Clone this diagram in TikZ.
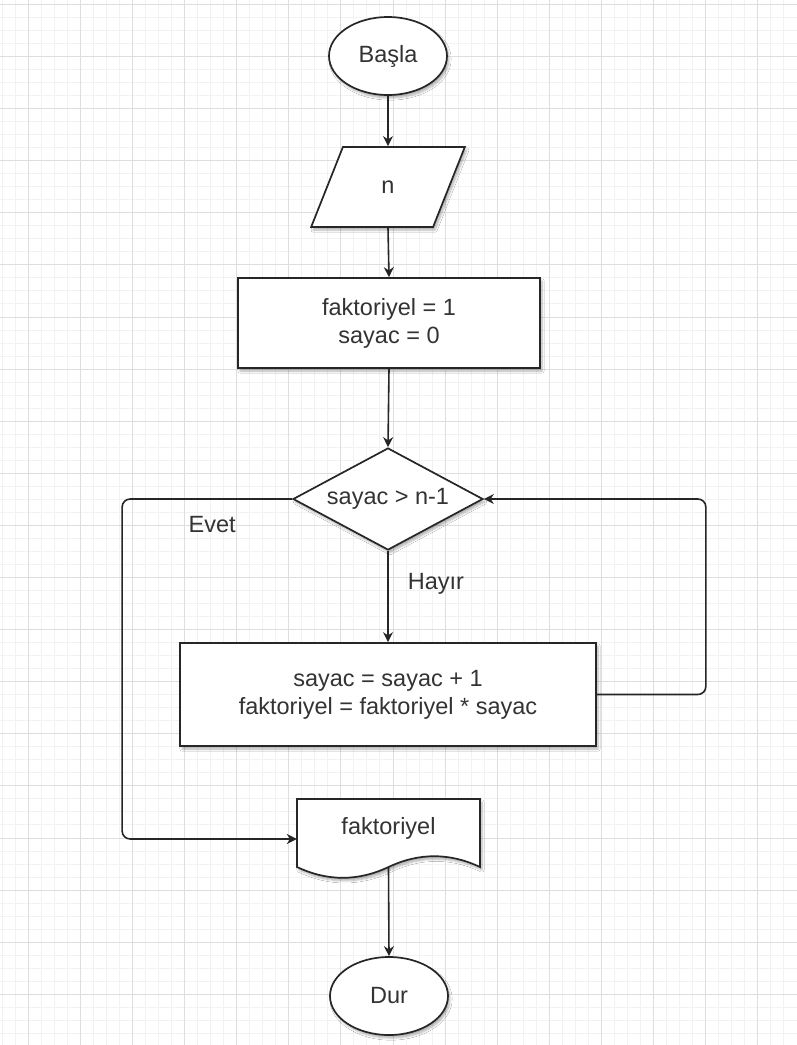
\documentclass[tikz,border=0pt]{standalone}
\usepackage{fontspec}
\setmainfont{Liberation Sans}
\usetikzlibrary{shapes.geometric,arrows.meta,shadows.blur}
\begin{document}
\begin{tikzpicture}[x=1pt,y=-1pt,
	font=\fontsize{23.5}{28}\selectfont,
	gridminor/.style={draw=black!5,line width=1pt},
	gridmajor/.style={draw=black!13,line width=1pt},
	block/.style={draw=black!85,fill=white,line width=1.7pt,text=black!80,align=center,inner sep=0pt,
		blur shadow={shadow xshift=2pt,shadow yshift=-3pt,shadow opacity=30,shadow blur steps=6}},
	startstop/.style={block,ellipse,minimum width=118pt,minimum height=78pt},
	io/.style={block,trapezium,trapezium left angle=70,trapezium right angle=110,
		trapezium stretches=true,minimum width=154pt,minimum height=80pt},
	process/.style={block,rectangle},
	decision/.style={block,diamond,aspect=1.86,minimum width=190pt,minimum height=102pt},
	arr/.style={draw=black!85,line width=1.6pt,-{Stealth[length=10pt,width=10pt]}},
	lbl/.style={text=black!80,inner sep=0pt}
	]
	\useasboundingbox (0,0) rectangle (797,1045);
	\fill[white] (0,0) rectangle (797,1045);
	
	% Grid
	\foreach \i in {0,1,...,60}{
		\draw[gridminor] (2.25+\i*13.025,0) -- ++(0,1045);
	}
	\foreach \i in {0,1,...,79}{
		\draw[gridminor] (0,4.4+\i*13.025) -- ++(797,0);
	}
	\foreach \i in {0,1,...,14}{
		\draw[gridmajor] (28.3+\i*52.1,0) -- ++(0,1045);
	}
	\foreach \i in {0,1,...,19}{
		\draw[gridmajor] (0,4.4+\i*52.1) -- ++(797,0);
	}
	
	% Shapes
	\node[startstop] (start) at (388,56) {Başla};
	\node[io] (inp) at (388,187) {n};
	\node[process,minimum width=302pt,minimum height=90pt] (init) at (389,323) {faktoriyel = 1\\sayac = 0};
	\node[decision] (cond) at (388,499) {sayac > n-1};
	\node[process,minimum width=416pt,minimum height=103pt] (body) at (388,694.5) {sayac = sayac + 1\\faktoriyel = faktoriyel * sayac};
	
	% Document
	\node[inner sep=0pt,minimum width=183pt,minimum height=80pt] (out) at (388.5,839) {};
	\draw[block,shift={(out.center)}] (-91.5,-40) -- (91.5,-40) -- (91.5,28)
		.. controls (61,13.6) and (30.5,13.6) .. (0,28)
		.. controls (-30.5,42.4) and (-61,42.4) .. (-91.5,28) -- cycle;
	\node[lbl] (outtext) at ([yshift=11pt]out.center) {faktoriyel};
	
	\node[startstop] (stop) at (389,996) {Dur};
	
	% Arrows
	\draw[arr] (start.south) -- (inp.north);
	\draw[arr] (inp.south) -- (init.north);
	\draw[arr] (init.south) -- (cond.north);
	\draw[arr] (cond.south) -- node[lbl,pos=0.36,right=19pt] (no) {Hayır} (body.north);
	\draw[arr,rounded corners=8pt] (body.east) -- ++(109,0) |- (cond.east);
	\draw[arr,rounded corners=8pt] (cond.west) -- node[lbl,pos=0.47,below=17pt] (yes) {Evet} ++(-170,0) |- (out.west);
	\draw[arr] ([yshift=12pt]out.south) -- (stop.north);
\end{tikzpicture}
\end{document}
